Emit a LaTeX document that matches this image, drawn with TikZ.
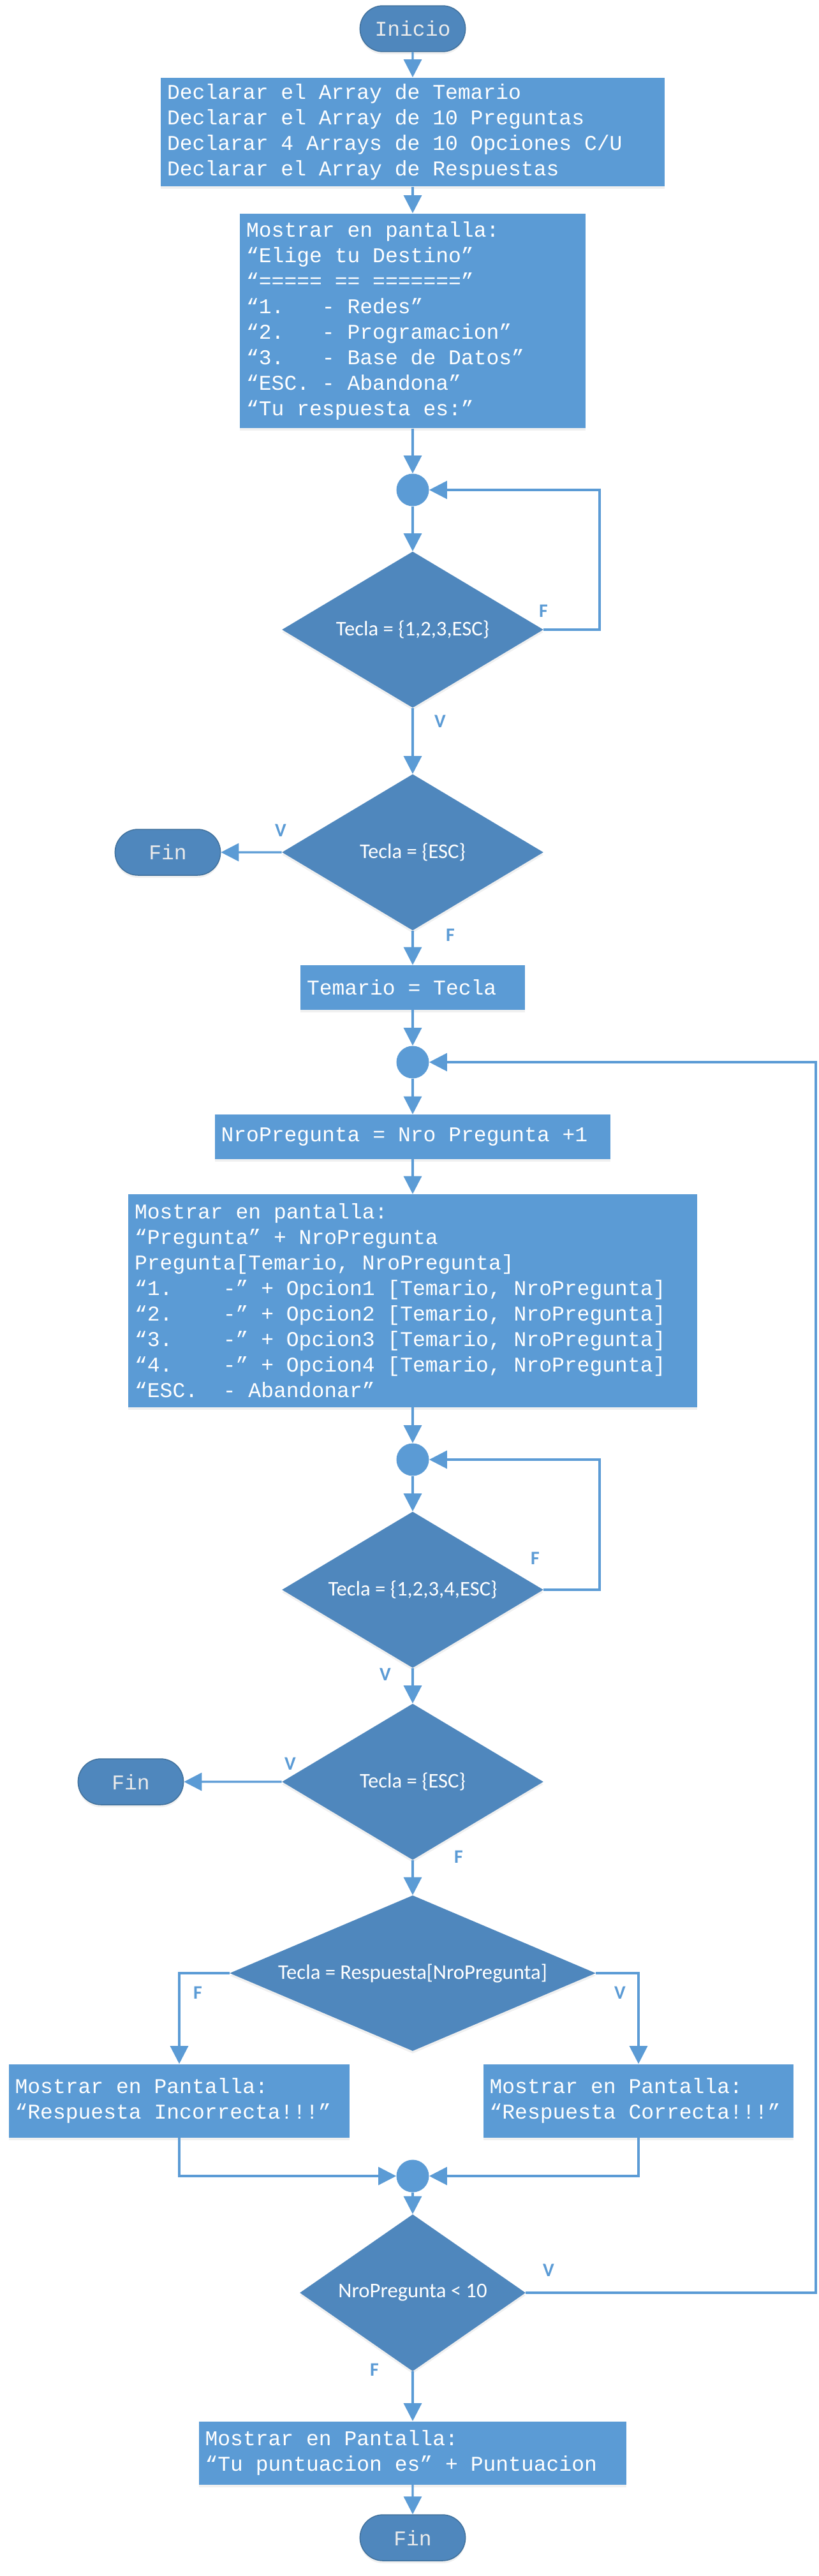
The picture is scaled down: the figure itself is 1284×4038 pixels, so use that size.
\documentclass[tikz,border=0pt]{standalone}
\usepackage{fontspec}
\setmainfont{Carlito}
\newfontfamily\mono{Liberation Mono}
\newcommand{\fuentecaja}{\mono\fontsize{18.8}{22.8}\selectfont}
\newcommand{\espacio}{\spaceskip 0.6em\relax\xspaceskip 0.6em\relax}
\usetikzlibrary{arrows.meta,shapes.geometric,shapes.misc,shadows}
\definecolor{azulcaja}{HTML}{5B9BD5}
\definecolor{azulrombo}{HTML}{4F87BD}
\definecolor{azulborde}{HTML}{41719C}

\begin{document}
\frenchspacing
\begin{tikzpicture}[
		x=0.02cm, y=-0.02cm,
		caja/.style={rectangle, fill=azulcaja, text=white, inner xsep=0.2cm, inner ysep=0pt, font=\fuentecaja, execute at begin node=\espacio, sombra},
		rombo/.style={diamond, aspect=1.67, fill=azulrombo, text=white, inner sep=0pt, minimum width=8.2cm, minimum height=4.9cm, font=\fontsize{18.6}{22}\selectfont, sombra},
		terminal/.style={rounded rectangle, fill=azulrombo, draw=azulborde, line width=0.03cm, text=white!92!black, minimum width=3.54cm, minimum height=1.44cm, font=\fuentecaja, sombra},
		union/.style={circle, fill=azulcaja, minimum size=1.02cm, inner sep=0pt},
		etiq/.style={text=azulcaja, font=\bfseries\fontsize{17}{20}\selectfont},
		flecha/.style={draw=azulcaja, line width=0.066cm, -{Triangle[width=0.56cm, length=0.56cm]}},
		sombra/.style={drop shadow={shadow xshift=0cm, shadow yshift=-0.08cm, opacity=0.12}}
	]
  \useasboundingbox (0,0) rectangle (1284,4038);
  \node (ini) [terminal] at (647,45) {Inicio};
  \node (decl) [caja, text width=15.4cm, minimum height=3.42cm] at (647,207) {Declarar el Array de Temario\\ Declarar el Array de 10 Preguntas\\ Declarar 4 Arrays de 10 Opciones C/U\\ Declarar el Array de Respuestas};
  \node (pant1) [caja, text width=10.44cm, minimum height=6.74cm] at (647,503) {Mostrar en pantalla:\\ “Elige tu Destino”\\ “===== == =======”\\ “1.~~~- Redes”\\ “2.~~~- Programacion”\\ “3.~~~- Base de Datos”\\ “ESC. - Abandona”\\ “Tu respuesta es:”};
  \node (u1) [union] at (647,768) {};
  \node (d1) [rombo] at (647,987) {Tecla = \{1,2,3,ESC\}};
  \node (d2) [rombo] at (647,1336) {Tecla = \{ESC\}};
  \node (fin1) [terminal] at (263,1336) {Fin};
  \node (tem) [caja, text width=6.64cm, minimum height=1.4cm] at (647,1548) {Temario = Tecla};
  \node (u2) [union] at (647,1665) {};
  \node (nro) [caja, text width=12.02cm, minimum height=1.4cm] at (647,1782) {NroPregunta = Nro Pregunta +1};
  \node (pant2) [caja, text width=17.44cm, minimum height=6.68cm] at (647,2039) {Mostrar en pantalla:\\ “Pregunta” + NroPregunta\\ Pregunta[Temario, NroPregunta]\\ “1.~~~~-” + Opcion1 [Temario, NroPregunta]\\ “2.~~~~-” + Opcion2 [Temario, NroPregunta]\\ “3.~~~~-” + Opcion3 [Temario, NroPregunta]\\ “4.~~~~-” + Opcion4 [Temario, NroPregunta]\\ “ESC.~~- Abandonar”};
  \node (u3) [union] at (647,2288) {};
  \node (d3) [rombo] at (647,2492) {Tecla = \{1,2,3,4,ESC\}};
  \node (d4) [rombo] at (647,2793) {Tecla = \{ESC\}};
  \node (fin2) [terminal] at (205,2793) {Fin};
  \node (d5) [rombo, aspect=2.35, minimum width=11.48cm, minimum height=4.88cm] at (647,3093) {Tecla = Respuesta[NroPregunta]};
  \node (inc) [caja, text width=10.3cm, minimum height=2.3cm] at (281,3293) {Mostrar en Pantalla:\\ “Respuesta Incorrecta!!!”};
  \node (cor) [caja, text width=9.34cm, minimum height=2.3cm] at (1001,3293) {Mostrar en Pantalla:\\ “Respuesta Correcta!!!”};
  \node (u4) [union] at (647,3411) {};
  \node (d6) [rombo, aspect=1.44, minimum width=7.08cm, minimum height=4.92cm] at (647,3594) {NroPregunta < 10};
  \node (pfin) [caja, text width=13.02cm, minimum height=1.98cm] at (647,3845) {Mostrar en Pantalla:\\ “Tu puntuacion es” + Puntuacion};
  \node (fin3) [terminal] at (647,3978) {Fin};
  % puntos de retorno
  \coordinate (r1) at (940,768);
  \coordinate (r2) at (940,2288);
  \coordinate (r3) at (1279,1665);
  % etiquetas V / F
  \node (f1) [etiq] at (852,958) {F};
  \node (v1) [etiq] at (690,1131) {V};
  \node (v2) [etiq] at (440,1302) {V};
  \node (f2) [etiq] at (706,1466) {F};
  \node (f3) [etiq] at (839,2443) {F};
  \node (v3) [etiq] at (604,2625) {V};
  \node (v4) [etiq] at (455,2765) {V};
  \node (f4) [etiq] at (719,2911) {F};
  \node (f5) [etiq] at (310,3124) {F};
  \node (v5) [etiq] at (972,3124) {V};
  \node (v6) [etiq] at (860,3559) {V};
  \node (f6) [etiq] at (587,3715) {F};
  \draw (ini) edge[flecha] (decl);
  \draw (decl) edge[flecha] (pant1);
  \draw (pant1) edge[flecha] (u1);
  \draw (u1) edge[flecha] (d1);
  \draw[flecha] (d1.east) -| (r1) -- (u1);
  \draw (d1) edge[flecha] (d2);
  \draw (d2) edge[flecha] (fin1);
  \draw (d2) edge[flecha] (tem);
  \draw (tem) edge[flecha] (u2);
  \draw (u2) edge[flecha] (nro);
  \draw (nro) edge[flecha] (pant2);
  \draw (pant2) edge[flecha] (u3);
  \draw (u3) edge[flecha] (d3);
  \draw[flecha] (d3.east) -| (r2) -- (u3);
  \draw (d3) edge[flecha] (d4);
  \draw (d4) edge[flecha] (fin2);
  \draw (d4) edge[flecha] (d5);
  \draw[flecha] (d5.west) -| (inc.north);
  \draw[flecha] (d5.east) -| (cor.north);
  \draw[flecha] (inc.south) |- (u4);
  \draw[flecha] (cor.south) |- (u4);
  \draw (u4) edge[flecha] (d6);
  \draw[flecha] (d6.east) -| (r3) -- (u2);
  \draw (d6) edge[flecha] (pfin);
  \draw (pfin) edge[flecha] (fin3);
\end{tikzpicture}
\end{document}
